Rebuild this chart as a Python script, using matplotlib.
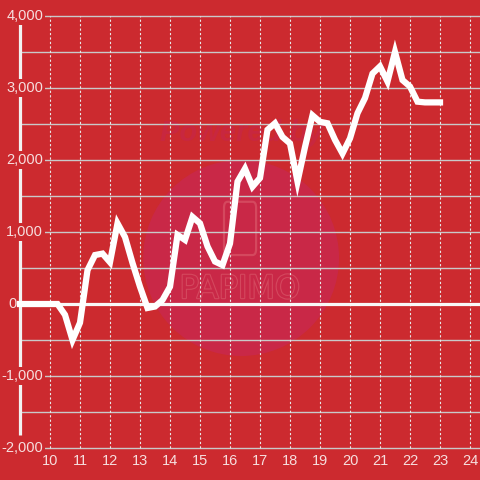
import matplotlib
matplotlib.use("Agg")
import matplotlib.pyplot as plt
from matplotlib.patches import Ellipse, FancyBboxPatch
import matplotlib.patheffects as pe

# hour of day (15 minute steps) and running balance
hours = [9.0, 9.25, 9.5, 9.75, 10.0, 10.25, 10.5, 10.75, 11.0, 11.25, 11.5, 11.75,
         12.0, 12.25, 12.5, 12.75, 13.0, 13.25, 13.5, 13.75, 14.0, 14.25, 14.5, 14.75,
         15.0, 15.25, 15.5, 15.75, 16.0, 16.25, 16.5, 16.75, 17.0, 17.25, 17.5, 17.75,
         18.0, 18.25, 18.5, 18.75, 19.0, 19.25, 19.5, 19.75, 20.0, 20.25, 20.5, 20.75,
         21.0, 21.25, 21.5, 21.75, 22.0, 22.25, 22.5, 22.75, 23.0]
balance = [0, 0, 0, 0, 0, 0, -150, -500, -260, 470, 680, 700,
           580, 1120, 930, 570, 240, -55, -35, 55, 240, 960, 890, 1210,
           1120, 800, 590, 540, 840, 1700, 1880, 1630, 1750, 2420, 2510, 2320,
           2230, 1700, 2180, 2620, 2530, 2510, 2280, 2090, 2300, 2650, 2860, 3200,
           3300, 3090, 3500, 3110, 3020, 2810, 2800, 2800, 2800]

x_ticks = [10, 11, 12, 13, 14, 15, 16, 17, 18, 19, 20, 21, 22, 23, 24]
y_ticks = [4000, 3000, 2000, 1000, 0, -1000, -2000]
y_labels = ["4,000", "3,000", "2,000", "1,000", "0", "-1,000", "-2,000"]
y_grid = [4000, 3500, 3000, 2500, 2000, 1500, 1000, 500, 0, -500, -1000, -1500, -2000]

bg = "#cc2a2f"
txt = "#f6dede"

fig = plt.figure(figsize=(4.8, 4.8), dpi=100, facecolor=bg)
ax = fig.add_axes([0, 0, 1, 1])
ax.set_facecolor(bg)
ax.set_xlim(8.3333, 24.3333)
ax.set_ylim(-2444, 4222)
ax.axis("off")

# watermark
ax.add_patch(Ellipse((16.37, 639), 6.53, 2722, facecolor="#c92847",
                     edgecolor="none", zorder=0))
ax.text(16.4, 2380, "Powered by", ha="center", va="center", fontsize=21,
        fontweight="bold", fontstyle="italic", color="#c8273f",
        family="Liberation Sans", zorder=0.5)
ax.add_patch(FancyBboxPatch((15.8, 680), 1.07, 740,
                            boxstyle="round,pad=0,rounding_size=0.12",
                            facecolor="none", edgecolor="#d4485e", lw=1.6,
                            mutation_aspect=700, zorder=0.5))
ax.text(16.33, 200, "PAPIMO", ha="center", va="center", fontsize=23,
        color="#c92847", family="DejaVu Sans", zorder=0.5,
        path_effects=[pe.Stroke(linewidth=1.6, foreground="#d4485e"), pe.Normal()])

# grid
ax.hlines(y_grid, 9, 24.3333, color="#c9c9c9", lw=1.0, zorder=1)
ax.vlines(x_ticks, -2000, 4000, color="#e8e8e8", lw=0.8,
          linestyles=(0, (2, 2)), zorder=1)

# left axis line and zero line
ax.plot([9, 9], [3890, -1820], color="#f2f2f2", lw=2.3, solid_capstyle="butt", zorder=2)
ax.axhline(0, xmin=0.04, color="#f8f8f8", lw=2.3, zorder=2)

# tick labels
for v, lab in zip(y_ticks, y_labels):
    if lab == "0":
        # the zero label sits left of the axis line
        ax.text(8.6, v, lab, ha="left", va="center", fontsize=10.5, color=txt,
                family="Liberation Sans", zorder=3)
        continue
    ax.text(9.77, v, lab, ha="right", va="center", fontsize=10.5, color=txt,
            family="Liberation Sans", zorder=3,
            bbox=dict(facecolor=bg, edgecolor="none", pad=1.5))
for h in x_ticks:
    ax.text(h, -2181, str(h), ha="center", va="center", fontsize=10.5,
            color=txt, family="Liberation Sans", zorder=3)

# balance line
ax.plot(hours, balance, color="white", lw=4.5, solid_joinstyle="miter",
        solid_capstyle="projecting", zorder=4)

fig.savefig("out.png", dpi=100, facecolor=bg)
